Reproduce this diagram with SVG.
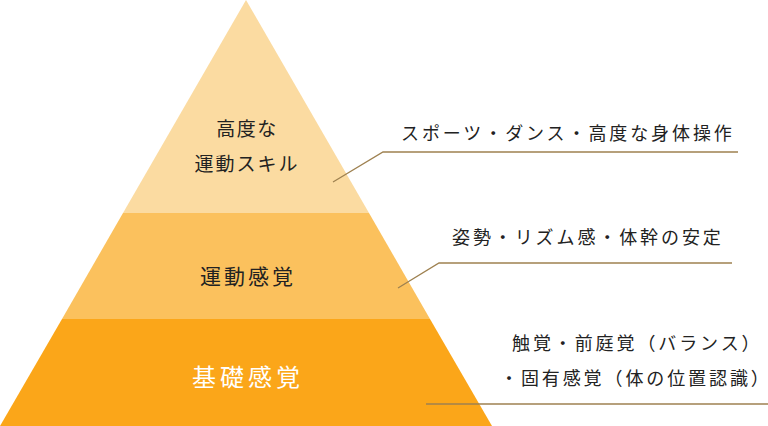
<svg xmlns="http://www.w3.org/2000/svg" width="768" height="426" viewBox="0 0 768 426">
<style>
text{font-family:"Noto Sans CJK JP","Noto Sans",sans-serif;}
.lbl{font-size:18px;fill:#222;letter-spacing:2.9px;}
.lead{fill:none;stroke:#9e8150;stroke-width:1.3;}
</style>
<rect width="768" height="426" fill="#ffffff"/>
<g id="top">
<polygon points="246,0 369,213 123,213" fill="#fbdba1"/>
<text x="247" y="136" font-size="19" fill="#222" text-anchor="middle" letter-spacing="1.5">高度な</text>
<text x="247" y="171" font-size="19" fill="#222" text-anchor="middle" letter-spacing="2">運動スキル</text>
</g>
<g id="middle">
<polygon points="123,213 369,213 430,319 62,319" fill="#fbc15d"/>
<text x="248" y="284" font-size="21" fill="#222" text-anchor="middle" letter-spacing="3">運動感覚</text>
</g>
<g id="bottom">
<polygon points="62,319 430,319 492,426 0,426" fill="#fba619"/>
<text x="248" y="386" font-size="24" fill="#ffffff" text-anchor="middle" letter-spacing="4">基礎感覚</text>
</g>
<g id="connectors">
<polyline class="lead" points="333,182 383,152 738,152"/>
<polyline class="lead" points="398,288 439,263 732,263"/>
<polyline class="lead" points="426,404 768,404"/>
</g>
<g id="desc1">
<text class="lbl" x="401" y="140">スポーツ・ダンス・高度な身体操作</text>
</g>
<g id="desc2">
<text class="lbl" x="452" y="244">姿勢・リズム感・体幹の安定</text>
</g>
<g id="desc3">
<text class="lbl" x="512" y="350">触覚・前庭覚（バランス）</text>
<text class="lbl" x="500" y="385" letter-spacing="2.6">・固有感覚（体の位置認識<tspan letter-spacing="0">）</tspan></text>
</g>
</svg>
